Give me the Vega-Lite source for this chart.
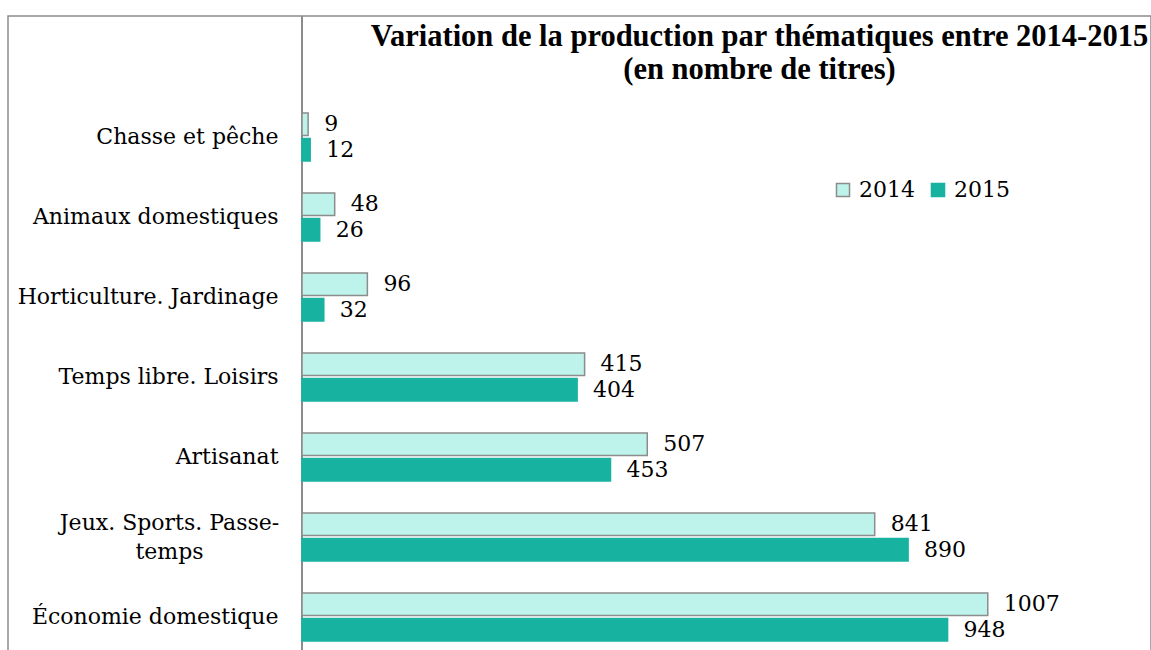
{
  "$schema": "https://vega.github.io/schema/vega-lite/v6.json",
  "autosize": {"type": "none"},
  "padding": {"left": 8, "top": 16, "right": 0, "bottom": 0},
  "width": 1143,
  "height": 641,
  "background": "white",
  "config": {
    "view": {"stroke": "#8c8c8c", "strokeWidth": 1.5},
    "font": "DejaVu Serif"
  },
  "title": {
    "text": ["Variation de la production par thématiques entre 2014-2015", "(en nombre de titres)"],
    "font": "Liberation Serif",
    "fontSize": 30.5,
    "fontWeight": "bold",
    "color": "#000000",
    "anchor": "middle",
    "frame": "group",
    "baseline": "top",
    "dx": 180,
    "dy": 74,
    "lineHeight": 33
  },
  "data": {
    "values": [
      {"cat": "Chasse et pêche", "year": "2014", "v": 9},
      {"cat": "Chasse et pêche", "year": "2015", "v": 12},
      {"cat": "Animaux domestiques", "year": "2014", "v": 48},
      {"cat": "Animaux domestiques", "year": "2015", "v": 26},
      {"cat": "Horticulture. Jardinage", "year": "2014", "v": 96},
      {"cat": "Horticulture. Jardinage", "year": "2015", "v": 32},
      {"cat": "Temps libre. Loisirs", "year": "2014", "v": 415},
      {"cat": "Temps libre. Loisirs", "year": "2015", "v": 404},
      {"cat": "Artisanat", "year": "2014", "v": 507},
      {"cat": "Artisanat", "year": "2015", "v": 453},
      {"cat": "Jeux. Sports. Passe-temps", "year": "2014", "v": 841},
      {"cat": "Jeux. Sports. Passe-temps", "year": "2015", "v": 890},
      {"cat": "Économie domestique", "year": "2014", "v": 1007},
      {"cat": "Économie domestique", "year": "2015", "v": 948}
    ]
  },
  "layer": [
    {
      "mark": {"type": "rule", "color": "#8c8c8c", "strokeWidth": 1.5},
      "encoding": {
        "x": {"datum": 0, "type": "quantitative", "scale": {"domain": [0, 1200], "range": [294, 1111.2], "nice": false, "zero": true}, "axis": null}
      }
    },
    {
      "mark": {"type": "bar", "strokeWidth": 1.5},
      "encoding": {
        "y": {
          "field": "cat",
          "type": "nominal",
          "sort": null,
          "scale": {"range": [81, 641], "paddingInner": 0.4, "paddingOuter": 0.2},
          "axis": {
            "title": null,
            "offset": -294,
            "domain": false,
            "ticks": false,
            "labelFont": "DejaVu Serif",
            "labelFontSize": 22,
            "labelColor": "#000000",
            "labelLimit": 400,
            "labelLineHeight": 29,
            "labelExpr": "datum.value == 'Jeux. Sports. Passe-temps' ? ['Jeux. Sports. Passe-', 'temps'] : datum.value",
            "labelAlign": {"condition": {"test": "datum.value == 'Jeux. Sports. Passe-temps'", "value": "center"}, "value": "right"},
            "labelPadding": {"condition": {"test": "datum.value == 'Jeux. Sports. Passe-temps'", "value": 133}, "value": 24},
            "labelOffset": {"condition": {"test": "datum.value == 'Jeux. Sports. Passe-temps'", "value": -14}, "value": 0}
          }
        },
        "yOffset": {"field": "year", "type": "nominal", "scale": {"paddingInner": 0.12}},
        "x": {"field": "v", "type": "quantitative"},
        "color": {
          "field": "year",
          "type": "nominal",
          "scale": {"domain": ["2014", "2015"], "range": ["#BDF3EB", "#18B2A0"]},
          "legend": {
            "title": null,
            "orient": "none",
            "direction": "horizontal",
            "legendX": 824,
            "legendY": 163,
            "symbolType": "square",
            "symbolSize": 170,
            "symbolStrokeWidth": 1.5,
            "labelFont": "DejaVu Serif",
            "labelFontSize": 22,
            "labelColor": "#000000",
            "labelOffset": 5,
            "columnPadding": 12
          }
        },
        "stroke": {
          "field": "year",
          "type": "nominal",
          "scale": {"domain": ["2014", "2015"], "range": ["#8c8c8c", "#18B2A0"]},
          "legend": null
        }
      }
    },
    {
      "mark": {"type": "text", "align": "left", "baseline": "middle", "dx": 16, "fontSize": 22, "font": "DejaVu Serif", "color": "#000000"},
      "encoding": {
        "y": {"field": "cat", "type": "nominal", "sort": null},
        "yOffset": {"field": "year", "type": "nominal"},
        "x": {"field": "v", "type": "quantitative"},
        "text": {"field": "v", "type": "quantitative"}
      }
    }
  ]
}
